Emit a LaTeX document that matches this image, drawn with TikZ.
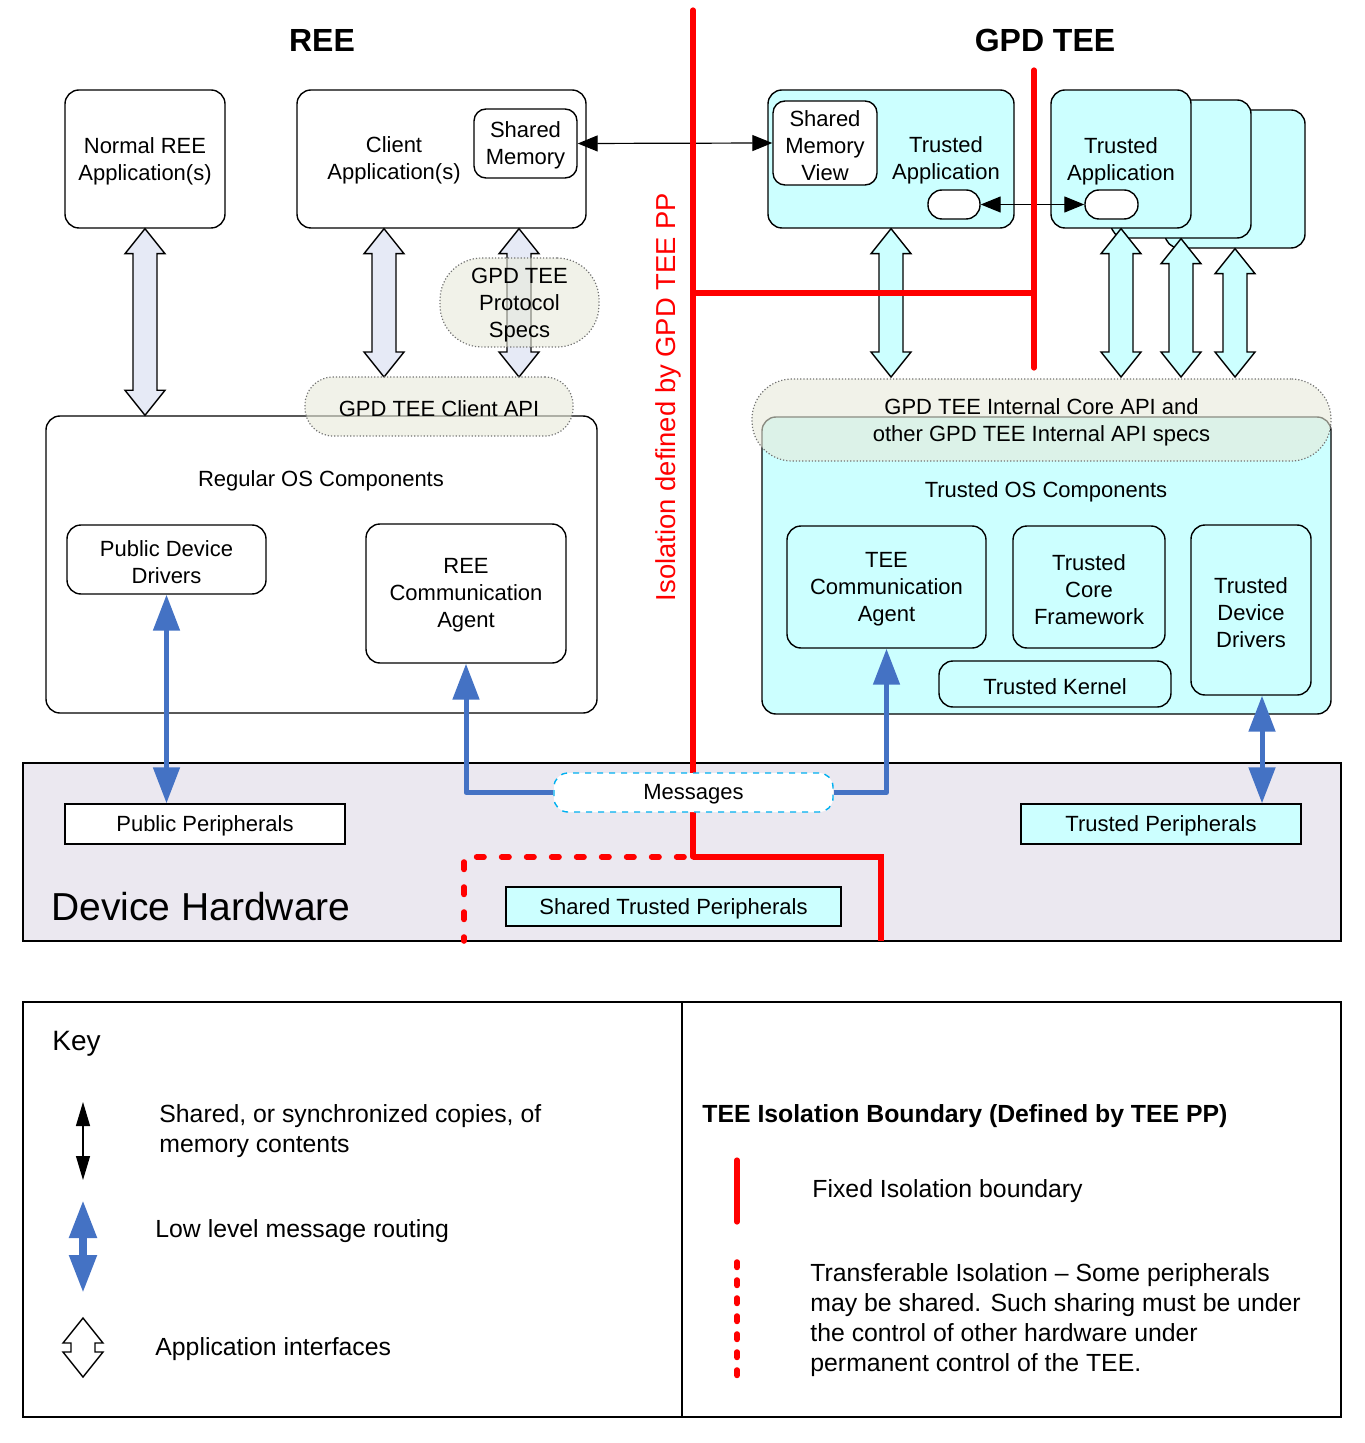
\documentclass[tikz,border=0pt]{standalone}
\usepackage{fontspec}
\setmainfont{Liberation Sans}
\usetikzlibrary{arrows.meta,calc}
\definecolor{tcyan}{HTML}{CCFFFF}
\definecolor{lav}{HTML}{E6EAF6}
\definecolor{blobc}{HTML}{E8EADA}
\definecolor{hwc}{HTML}{EBE8F0}
\definecolor{bblue}{HTML}{4472C4}
\definecolor{msgc}{HTML}{00B0F0}
\definecolor{rred}{HTML}{FF0000}
\newcommand\fs{\fontsize{11}{13.5}\selectfont}
\newcommand\lfs{\fontsize{12.4}{15}\selectfont}
\newcommand\bx[7]{\node[#6, minimum width={(#4-#2)*0.5pt}, minimum height={(#5-#3)*0.5pt}] (#1) at ({(#2+#4)/2},{(#3+#5)/2}) {};
  \node[lbl] (#1-t) at (#1.center) {#7};}
\newcommand\hollowarrow[3]{%
  \draw[line width=0.7pt, fill=#3] let \p1=#1, \p2=#2 in
   (\x1,\y1) -- (\x1+10pt,\y1-12.5pt) -- (\x1+6pt,\y1-12.5pt) -- (\x1+6pt,\y2+12.5pt)
   -- (\x1+10pt,\y2+12.5pt) -- (\x1,\y2) -- (\x1-10pt,\y2+12.5pt) -- (\x1-6pt,\y2+12.5pt)
   -- (\x1-6pt,\y1-12.5pt) -- (\x1-10pt,\y1-12.5pt) -- cycle;}
\tikzset{
  box/.style={draw, line width=0.7pt, rounded corners=7pt, inner sep=0pt, fill=white},
  cbox/.style={box, fill=tcyan},
  sbox/.style={box, rounded corners=0pt},
  blob/.style={draw=black!55, densely dotted, line width=0.6pt, fill=blobc, fill opacity=0.6, inner sep=0pt},
  lbl/.style={inner sep=0pt, align=center, font=\fs, yshift=-1.1pt},
  memarrow/.style={line width=0.6pt, {Triangle[length=10pt,width=8pt]}-{Triangle[length=10pt,width=8pt]}},
  msgarrow/.style={draw=bblue, line width=2.5pt, line join=round},
  btip/.tip={Triangle[length=18pt,width=13pt]},
  redline/.style={draw=rred, line width=2.6pt, line cap=round},
  reddash/.style={draw=rred, line width=2.8pt, line cap=round, dash pattern=on 3.7pt off 8.8pt},
  reddot/.style={draw=rred, line width=2.8pt, line cap=round, dash pattern=on 2.7pt off 6.3pt},
  ltext/.style={anchor=west, inner sep=0pt, align=left, font=\lfs},
}
\begin{document}
\begin{tikzpicture}[x=0.5pt,y=-0.5pt]
\useasboundingbox (0,0) rectangle (1364,1443);

% Device hardware
\bx{hw}{23}{763}{1341}{941}{draw, line width=0.7pt, fill=hwc}{}
\node[anchor=west, inner sep=0pt, font=\fontsize{19.5}{22}\selectfont] (hwtxt) at (51,907) {Device Hardware};

% REE top
\bx{normal}{65}{90}{225}{228}{box}{Normal REE\\Application(s)}
\bx{client}{297}{90}{586}{228}{box}{}
\node[lbl] (clienttxt) at (394,158) {Client\\Application(s)};
\bx{shmem}{474}{109}{577}{178}{box, rounded corners=6pt}{Shared\\Memory}

% TEE top
\bx{ta3}{1165}{110}{1305}{248}{cbox}{}
\bx{ta2b}{1111}{100}{1251}{238}{cbox}{}
\bx{ta2}{1051}{90}{1191}{228}{cbox}{Trusted\\Application}
\bx{ta1}{768}{90}{1014}{228}{cbox}{}
\node[lbl] (ta1txt) at (946,158) {Trusted\\Application};
\bx{smv}{773}{101}{877}{185}{box, rounded corners=6pt}{Shared\\Memory\\View}
\bx{pill1}{928}{190}{980}{219}{box}{}
\bx{pill2}{1085}{190}{1138}{219}{box}{}

% Regular OS
\bx{regos}{46}{416}{597}{713}{box}{}
\node[lbl] (regostxt) at (321,479) {Regular OS Components};
\bx{pubdrv}{67}{525}{266}{594}{box}{Public Device\\Drivers}
\bx{reeca}{366}{524}{566}{663}{box}{REE\\Communication\\Agent}

% Trusted OS
\bx{tos}{762}{417}{1331}{714}{cbox}{}
\node[lbl] (tostxt) at (1046,490) {Trusted OS Components};
\bx{teeca}{787}{526}{986}{648}{cbox}{TEE\\Communication\\Agent}
\bx{tcf}{1013}{526}{1165}{648}{cbox}{Trusted\\Core\\Framework}
\bx{tdd}{1191}{525}{1311}{695}{cbox}{Trusted\\Device\\Drivers}
\bx{tk}{939}{661}{1171}{707}{cbox}{Trusted Kernel}

\coordinate (protoc) at (519,300);
\coordinate (cx) at (384,0);

% application interface arrows
\hollowarrow{(normal.south)}{(normal.south |- regos.north)}{lav}
\hollowarrow{(cx |- client.south)}{(384,377)}{lav}
\hollowarrow{(protoc |- client.south)}{(519,377)}{lav}
\hollowarrow{(ta1.south)}{(891,377)}{tcyan}
\hollowarrow{(ta2.south)}{(1121,377)}{tcyan}
\hollowarrow{(ta2b.south)}{(1181,377)}{tcyan}
\hollowarrow{(ta3.south)}{(1235,377)}{tcyan}

% API blobs
\bx{proto}{440}{258}{599}{347}{blob, rounded corners=21pt}{GPD TEE\\Protocol\\Specs}
\bx{clientapi}{305}{377}{573}{436}{blob, rounded corners=14pt}{GPD TEE Client API}
\bx{intapi}{752}{379}{1331}{461}{blob, rounded corners=20pt}{GPD TEE Internal Core API and\\other GPD TEE Internal API specs}

% memory arrows
\draw[memarrow] (shmem.east) -- (smv.west);
\draw[memarrow] (pill1.east) -- (pill2.west);

% isolation boundaries
\draw[redline] (693,10) -- (693,857);
\draw[redline, line cap=butt] (693,293) -- (1034,293);
\draw[redline] (1034,70) -- (1034,368);
\draw[redline, line cap=butt] (693,857) -- (881,857) -- (881,941);
\draw[reddash] (684,857) -- (464,857) -- (464,941);
\node[rotate=90, inner sep=0pt, text=rred, font=\fontsize{13.7}{16}\selectfont] (isotxt) at (668,397) {Isolation defined by GPD TEE PP};

% hardware contents
\bx{pubper}{65}{804}{345}{844}{sbox}{Public Peripherals}
\bx{trper}{1021}{804}{1301}{844}{sbox, fill=tcyan}{Trusted Peripherals}
\bx{shtper}{506}{887}{841}{926}{sbox, fill=tcyan}{Shared Trusted Peripherals}
\bx{msgs}{554}{773}{833}{812}{box, draw=msgc, dashed}{Messages}

% message routing
\coordinate (tddx) at (1262,0);
\draw[msgarrow, btip-btip] (pubdrv.south) -- (pubdrv.south |- pubper.north);
\draw[msgarrow, -btip] (msgs.west) -| (reeca.south);
\draw[msgarrow, -btip] (msgs.east) -| (teeca.south);
\draw[msgarrow, btip-btip] (tddx |- tdd.south) -- (tddx |- trper.north);

% titles
\node[inner sep=0pt, font=\fontsize{16}{19}\selectfont\bfseries] (reetitle) at (322,40) {REE};
\node[inner sep=0pt, font=\fontsize{16}{19}\selectfont\bfseries] (teetitle) at (1045,40) {GPD TEE};

% legend
\bx{keyl}{23}{1002}{682}{1417}{draw, line width=0.7pt}{}
\bx{keyr}{682}{1002}{1341}{1417}{draw, line width=0.7pt}{}
\node[anchor=west, inner sep=0pt, font=\fontsize{14}{17}\selectfont] (keytxt) at (52,1044) {Key};
\coordinate (k1a) at (83,1102);
\coordinate (k1b) at (83,1180);
\draw[line width=0.6pt, {Triangle[length=12pt,width=7pt]}-{Triangle[length=12pt,width=7pt]}] (k1a) -- (k1b);
\node[ltext] (k1txt) at (159,1131) {Shared, or synchronized copies, of\\memory contents};
\coordinate (k2a) at (83,1200);
\coordinate (k2b) at (83,1293);
\draw[draw=bblue, line width=4pt, {Triangle[length=19pt,width=13pt]}-{Triangle[length=19pt,width=13pt]}] (k2a) -- (k2b);
\node[ltext] (k2txt) at (155,1231) {Low level message routing};
\coordinate (k3a) at (83,1318);
\coordinate (k3b) at (83,1377);
\hollowarrow{(k3a)}{(k3b)}{white}
\node[ltext] (k3txt) at (155,1349) {Application interfaces};

\node[ltext, font=\lfs\bfseries] (k4title) at (702,1116) {TEE Isolation Boundary (Defined by TEE PP)};
\coordinate (k4a) at (737,1160);
\coordinate (k4b) at (737,1222);
\draw[redline] (k4a) -- (k4b);
\node[ltext] (k4txt) at (812,1191) {Fixed Isolation boundary};
\coordinate (k5a) at (737,1262);
\coordinate (k5b) at (737,1378);
\draw[reddot] (k5a) -- (k5b);
\node[ltext] (k5txt) at (810,1320) {Transferable Isolation – Some peripherals\\may be shared. Such sharing must be under\\the control of other hardware under\\permanent control of the TEE.};
\end{tikzpicture}
\end{document}
